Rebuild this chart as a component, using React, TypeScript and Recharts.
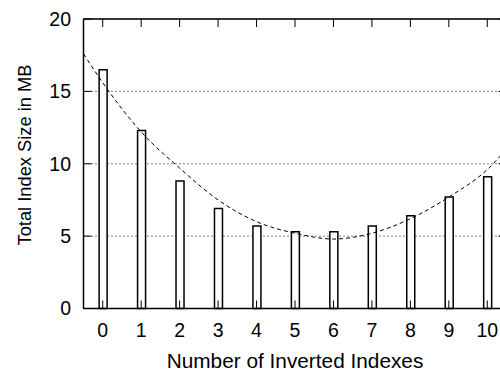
import React from "react";
import {
  ComposedChart,
  Bar,
  Line,
  Scatter,
  XAxis,
  YAxis,
  CartesianGrid,
} from "recharts";

// measured values
const indexCounts = [0, 1, 2, 3, 4, 5, 6, 7, 8, 9, 10];
const indexSizes = [16.5, 12.3, 8.8, 6.9, 5.7, 5.3, 5.3, 5.7, 6.4, 7.7, 9.1];

// dashed fit curve
const fitX = [-0.5, 0, 1, 2, 3, 4, 5, 6, 7, 8, 9, 10, 10.5];
const fitSizes = [17.6, 15.6, 12.2, 9.7, 7.5, 6.0, 5.2, 4.8, 5.2, 6.2, 7.7, 9.6, 11.0];

const xTicks = [0, 1, 2, 3, 4, 5, 6, 7, 8, 9, 10];
const yTicks = [0, 5, 10, 15, 20];
const xRange = [-0.5, 10.5];
const yRange = [0, 20];

const font = "'Liberation Sans', Arial, Helvetica, sans-serif";
const tickFont = { fontSize: 19.5, fontFamily: font, fill: "#000" };
const frame = { stroke: "#000", strokeWidth: 1.5 };

const rows = fitX.map((x, i) => {
  const k = indexCounts.indexOf(x);
  return { x, size: k >= 0 ? indexSizes[k] : null, fit: fitSizes[i] };
});

// gnuplot style inward tick marks, placed through the scales
const bottomMarks = xTicks.map((x) => ({ x, y: yRange[0] }));
const topMarks = xTicks.map((x) => ({ x, y: yRange[1] }));
const leftMarks = yTicks.map((y) => ({ x: xRange[0], y }));
const rightMarks = yTicks.map((y) => ({ x: xRange[1], y }));

const mark = (dx: number, dy: number) => (p: any) =>
  (
    <line
      x1={p.cx}
      y1={p.cy}
      x2={p.cx + dx}
      y2={p.cy + dy}
      stroke="#000"
      strokeWidth={1}
    />
  );

export default function App() {
  return (
    <div
      style={{
        position: "absolute",
        left: 0,
        top: 0,
        width: 500,
        height: 371,
        overflow: "hidden",
        background: "#fff",
      }}
    >
      <ComposedChart
        width={510}
        height={371}
        data={rows}
        margin={{ top: 9, right: 0, bottom: 32.5, left: 53.5 }}
      >
        <CartesianGrid vertical={false} stroke="#000" strokeDasharray="1 3" />
        <XAxis
          dataKey="x"
          type="number"
          domain={xRange}
          ticks={xTicks}
          height={30}
          tickSize={0}
          tickMargin={14.7}
          tick={tickFont}
          tickLine={false}
          axisLine={frame}
          interval={0}
        />
        <XAxis
          xAxisId="top"
          orientation="top"
          dataKey="x"
          type="number"
          domain={xRange}
          ticks={xTicks}
          height={10}
          tick={false}
          tickLine={false}
          axisLine={frame}
        />
        <YAxis
          type="number"
          domain={yRange}
          ticks={yTicks}
          width={30}
          tickSize={0}
          tickMargin={12.5}
          tick={tickFont}
          tickLine={false}
          axisLine={frame}
          interval={0}
        />
        <YAxis
          yAxisId="right"
          orientation="right"
          type="number"
          domain={yRange}
          ticks={yTicks}
          width={3.5}
          tick={false}
          tickLine={false}
          axisLine={frame}
        />
        <Bar
          dataKey="size"
          barSize={8}
          fill="#fff"
          stroke="#000"
          strokeWidth={1.5}
          isAnimationActive={false}
        />
        <Line
          dataKey="fit"
          type="monotone"
          stroke="#000"
          strokeWidth={1}
          strokeDasharray="4 3"
          dot={false}
          activeDot={false}
          isAnimationActive={false}
        />
        <Scatter data={bottomMarks} dataKey="y" shape={mark(0, -8)} isAnimationActive={false} />
        <Scatter data={topMarks} dataKey="y" shape={mark(0, 8)} isAnimationActive={false} />
        <Scatter data={leftMarks} dataKey="y" shape={mark(8, 0)} isAnimationActive={false} />
        <Scatter data={rightMarks} dataKey="y" shape={mark(-8, 0)} isAnimationActive={false} />
      </ComposedChart>
      <div
        style={{
          position: "absolute",
          left: 295,
          top: 351,
          transform: "translateX(-50%)",
          whiteSpace: "nowrap",
          fontFamily: font,
          fontSize: 20.8,
          lineHeight: "19px",
        }}
      >
        Number of Inverted Indexes
      </div>
      <div
        style={{
          position: "absolute",
          left: 24,
          top: 155,
          transform: "translate(-50%, -50%) rotate(-90deg)",
          whiteSpace: "nowrap",
          fontFamily: font,
          fontSize: 18.3,
          lineHeight: "19px",
        }}
      >
        Total Index Size in MB
      </div>
    </div>
  );
}
